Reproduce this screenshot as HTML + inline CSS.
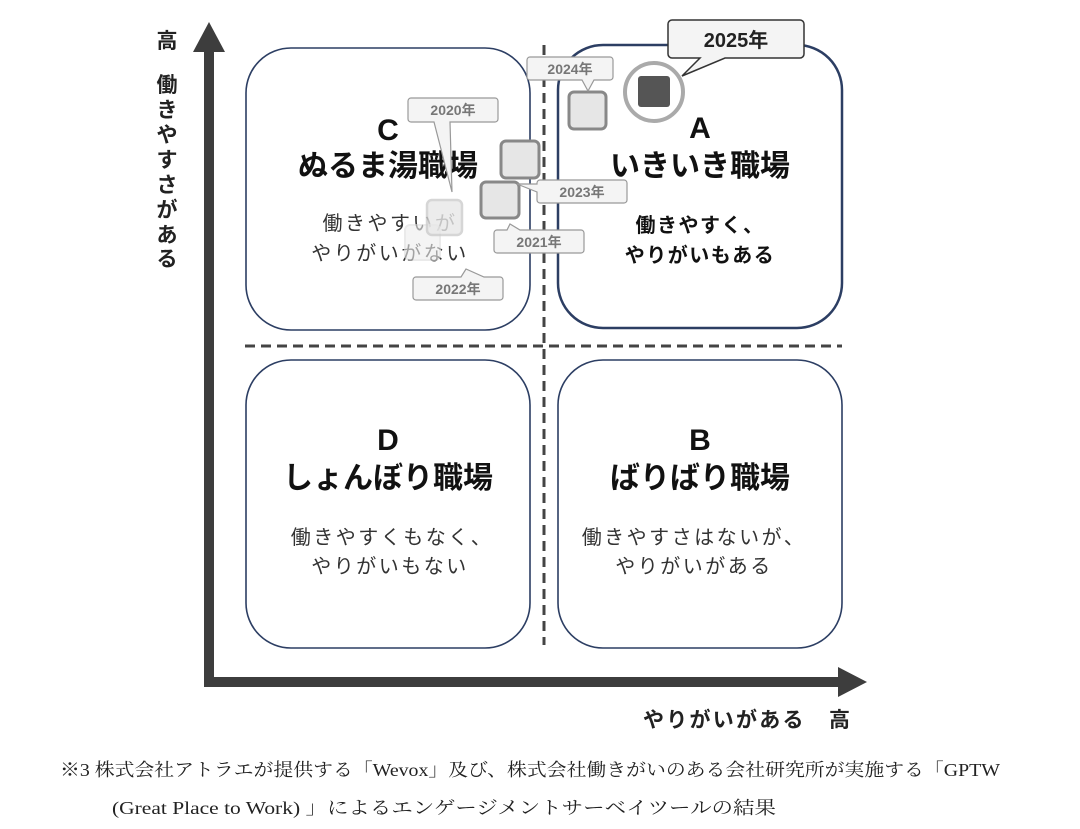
<!DOCTYPE html>
<html><head><meta charset="utf-8"><style>
html,body{margin:0;padding:0;background:#fff;}
svg{display:block;}
text{font-family:"Liberation Sans","Noto Sans CJK JP",sans-serif;}
.t{font-size:30px;font-weight:bold;fill:#111;text-anchor:middle;}
.s{font-size:20px;fill:#333;text-anchor:middle;letter-spacing:2.5px;}
.sb{font-size:20px;fill:#111;font-weight:bold;text-anchor:middle;letter-spacing:1.5px;}
.lab{font-size:14px;font-weight:bold;fill:#777;text-anchor:middle;}
.fn{font-family:"Liberation Serif","Noto Serif CJK JP",serif;font-size:18px;fill:#222;}
</style></head><body>
<svg width="1080" height="829" viewBox="0 0 1080 829" xmlns="http://www.w3.org/2000/svg">
<g fill="#fff" stroke="#2c3e63" stroke-width="1.6">
<rect x="246" y="48" width="284" height="282" rx="45"/>
<rect x="558" y="45" width="284" height="283" rx="45" stroke-width="2.5"/>
<rect x="246" y="360" width="284" height="288" rx="45"/>
<rect x="558" y="360" width="284" height="288" rx="45"/>
</g>
<g stroke="#444" stroke-width="3" stroke-dasharray="10,6">
<line x1="245" y1="346" x2="842" y2="346"/>
<line x1="544" y1="45" x2="544" y2="645"/>
</g>
<rect x="204" y="48" width="10" height="639" fill="#3d3d3d"/>
<polygon points="209,22 193,52 225,52" fill="#3d3d3d"/>
<rect x="204" y="677" width="640" height="10" fill="#3d3d3d"/>
<polygon points="867,682 838,667 838,697" fill="#3d3d3d"/>
<g font-size="21" font-weight="bold" fill="#222" text-anchor="middle">
<text x="167" y="48">高</text>
<text x="167" y="92">働</text>
<text x="167" y="117">き</text>
<text x="167" y="142">や</text>
<text x="167" y="167">す</text>
<text x="167" y="192">さ</text>
<text x="167" y="217">が</text>
<text x="167" y="242">あ</text>
<text x="167" y="266">る</text>
</g>
<text x="643" y="727" font-size="21" font-weight="bold" fill="#222" textLength="207" lengthAdjust="spacing">やりがいがある　高</text>
<text class="t" x="388" y="140">C</text>
<text class="t" x="388" y="176">ぬるま湯職場</text>
<text class="s" x="390" y="230">働きやすいが</text>
<text class="s" x="390" y="260">やりがいがない</text>
<text class="t" x="700" y="138">A</text>
<text class="t" x="700" y="176">いきいき職場</text>
<text class="sb" x="700" y="232">働きやすく、</text>
<text class="sb" x="700" y="262">やりがいもある</text>
<text class="t" x="388" y="450">D</text>
<text class="t" x="388" y="488">しょんぼり職場</text>
<text class="s" x="392" y="544">働きやすくもなく、</text>
<text class="s" x="390" y="573">やりがいもない</text>
<text class="t" x="700" y="450">B</text>
<text class="t" x="700" y="488">ばりばり職場</text>
<text class="s" x="694" y="544">働きやすさはないが、</text>
<text class="s" x="694" y="573">やりがいがある</text>
<rect x="405" y="225" width="35" height="35" rx="5" fill="#eee" stroke="#ddd" stroke-width="2" opacity="0.6"/>
<rect x="427" y="200" width="35" height="35" rx="5" fill="#e8e8e8" stroke="#ccc" stroke-width="2.5" opacity="0.8"/>
<rect x="481" y="182" width="38" height="36" rx="5" fill="#e6e6e6" stroke="#888" stroke-width="3"/>
<rect x="501" y="141" width="38" height="37" rx="5" fill="#e6e6e6" stroke="#888" stroke-width="3"/>
<rect x="569" y="92" width="37" height="37" rx="5" fill="#e6e6e6" stroke="#888" stroke-width="3"/>
<circle cx="654" cy="92" r="29" fill="#fff" stroke="#aaa" stroke-width="4"/>
<rect x="638" y="76" width="32" height="31" rx="3" fill="#555"/>
<g fill="#f4f4f4" stroke="#999" stroke-width="1.2">
<path d="M411,98 h84 a3,3 0 0 1 3,3 v18 a3,3 0 0 1 -3,3 h-45 l2,70 l-18,-70 h-23 a3,3 0 0 1 -3,-3 v-18 a3,3 0 0 1 3,-3z"/>
<path d="M540,180 h84 a3,3 0 0 1 3,3 v17 a3,3 0 0 1 -3,3 h-84 a3,3 0 0 1 -3,-3 v-8 l-20,-8 l20,0 v-1 a3,3 0 0 1 3,-3z"/>
<path d="M497,230 h10 l3,-6 l10,6 h61 a3,3 0 0 1 3,3 v17 a3,3 0 0 1 -3,3 h-84 a3,3 0 0 1 -3,-3 v-17 a3,3 0 0 1 3,-3z"/>
<path d="M416,277 h45 l5,-8 l18,8 h16 a3,3 0 0 1 3,3 v17 a3,3 0 0 1 -3,3 h-84 a3,3 0 0 1 -3,-3 v-17 a3,3 0 0 1 3,-3z"/>
<path d="M530,57 h80 a3,3 0 0 1 3,3 v17 a3,3 0 0 1 -3,3 h-16 l-6,11 l-6,-11 h-52 a3,3 0 0 1 -3,-3 v-17 a3,3 0 0 1 3,-3z"/>
</g>
<path d="M672,20 h128 a4,4 0 0 1 4,4 v30 a4,4 0 0 1 -4,4 h-75 l-43,18 l18,-18 h-28 a4,4 0 0 1 -4,-4 v-30 a4,4 0 0 1 4,-4z" fill="#f4f4f4" stroke="#333" stroke-width="1.5"/>
<text class="lab" x="453" y="115">2020年</text>
<text class="lab" x="582" y="197">2023年</text>
<text class="lab" x="539" y="247">2021年</text>
<text class="lab" x="458" y="294">2022年</text>
<text class="lab" x="570" y="74">2024年</text>
<text x="736" y="47" font-size="20" font-weight="bold" fill="#222" text-anchor="middle">2025年</text>
<text class="fn" x="60" y="776" textLength="940" lengthAdjust="spacingAndGlyphs">※3 株式会社アトラエが提供する「Wevox」及び、株式会社働きがいのある会社研究所が実施する「GPTW</text>
<text class="fn" x="112" y="814" textLength="664" lengthAdjust="spacingAndGlyphs">(Great Place to Work) 」によるエンゲージメントサーベイツールの結果</text>
</svg>
</body></html>
